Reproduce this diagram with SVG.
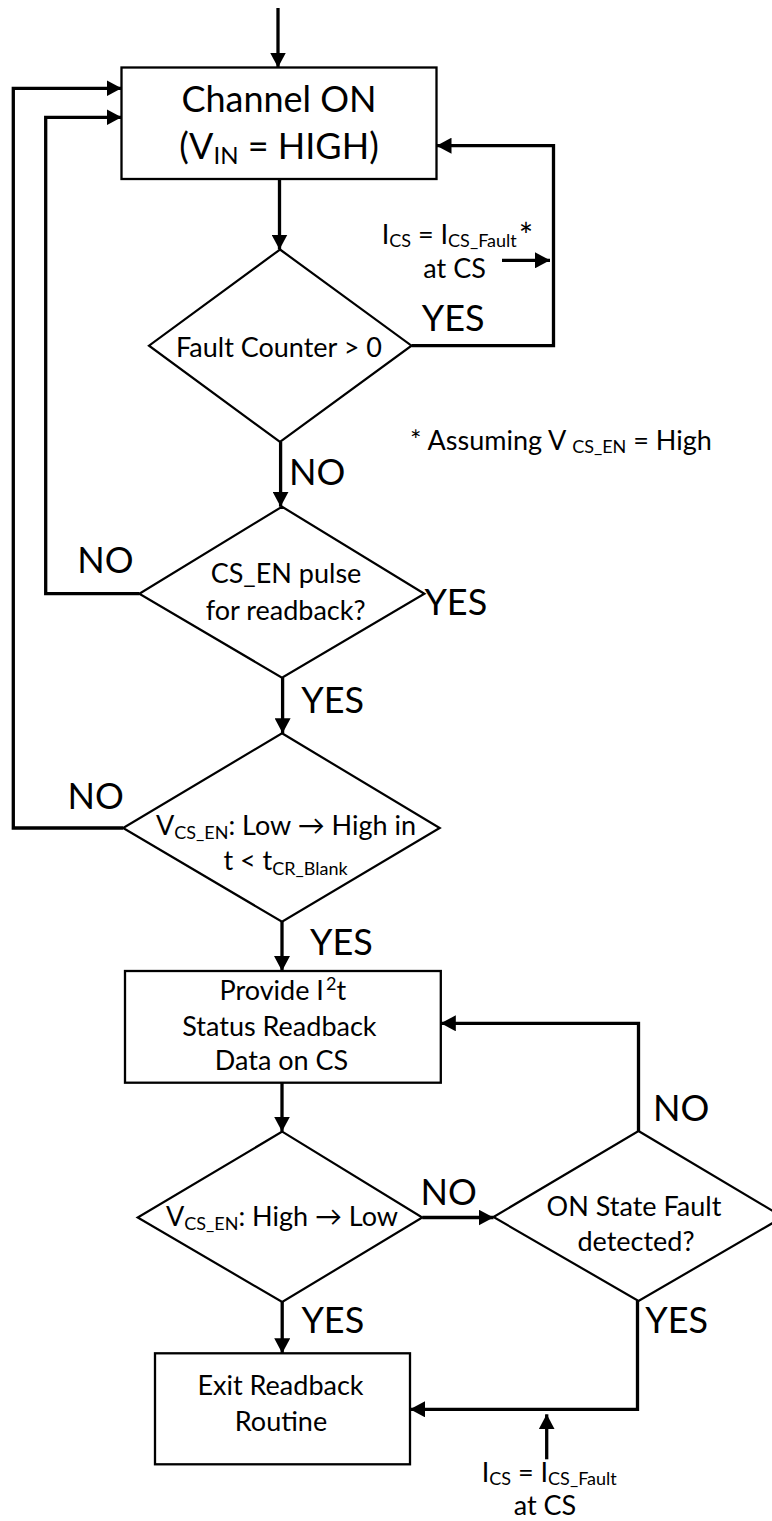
<svg xmlns="http://www.w3.org/2000/svg" width="772" height="1521" viewBox="0 0 772 1521">
  <style>
    .box { fill: #ffffff; stroke: #000000; stroke-width: 2.3; }
    .dia { fill: #ffffff; stroke: #000000; stroke-width: 2.2; stroke-linejoin: miter; }
    .conn { fill: none; stroke: #000000; stroke-width: 3.3; stroke-linejoin: miter; marker-end: url(#ah); }
    text { font-family: Lato, "Liberation Sans", "DejaVu Sans", sans-serif; fill: #000000; }
    .big { font-size: 36px; }
    .mid { font-size: 27px; }
    .c { text-anchor: middle; }
    .sub { font-size: 18px; }
    .subb { font-size: 24px; }
    .star { font-size: 34px; }
  </style>
  <defs>
    <marker id="ah" markerUnits="userSpaceOnUse" markerWidth="16" markerHeight="16" refX="15" refY="8" orient="auto">
      <path d="M0,0 L15,8 L0,16 z" fill="#000000"/>
    </marker>
  </defs>

  <g id="connectors">
    <path class="conn" d="M278,8 V67.5"/>
    <path class="conn" d="M279.5,179 V249.5"/>
    <path class="conn" d="M411.5,345.7 H553.5 V145.7 H436.5"/>
    <path class="conn" d="M280.6,442 V506.7"/>
    <path class="conn" d="M139.3,593.7 H45.7 V117.3 H121.5"/>
    <path class="conn" d="M282.6,677.7 V733.3"/>
    <path class="conn" d="M123.1,828 H13.3 V88.3 H121.5"/>
    <path class="conn" d="M282,921.7 V971"/>
    <path class="conn" d="M282,1082.7 V1131.6"/>
    <path class="conn" d="M422.3,1217.5 H493.5"/>
    <path class="conn" d="M638.5,1131 V1023.3 H440.8"/>
    <path class="conn" d="M282.2,1302 V1353.3"/>
    <path class="conn" d="M637.5,1301 V1409.3 H410"/>
    <path class="conn" d="M502,260.3 H550"/>
    <path class="conn" d="M546.7,1459.3 V1414.3"/>
  </g>

  <g id="channel-on">
    <rect class="box" x="121.5" y="67.5" width="315" height="111.5"/>
    <text class="big c" x="279" y="111.7">Channel ON</text>
    <text class="big c" x="279" y="159">(V<tspan class="subb" dy="5">IN</tspan><tspan dy="-5"> = HIGH)</tspan></text>
  </g>

  <g id="fault-counter">
    <polygon class="dia" points="280,249.5 411.5,345.7 280,442 149,345.7"/>
    <text class="mid c" x="279" y="357">Fault Counter &gt; 0</text>
  </g>

  <g id="cs-en-pulse">
    <polygon class="dia" points="282,506.7 424.4,593.7 282,677.7 139.3,593.7"/>
    <text class="mid c" x="286" y="583.3">CS_EN pulse</text>
    <text class="mid c" x="285.6" y="620">for readback?</text>
  </g>

  <g id="vcsen-low-high">
    <polygon class="dia" points="282,733.3 439.7,828 282,921.7 123.1,828"/>
    <text class="mid c" x="286" y="835">V<tspan class="sub" dy="4">CS_EN</tspan><tspan dy="-4">: Low → High in</tspan></text>
    <text class="mid c" x="285.5" y="870">t &lt; t<tspan class="sub" dy="5">CR_Blank</tspan></text>
  </g>

  <g id="provide-readback">
    <rect class="box" x="125" y="971" width="315.8" height="111.7"/>
    <text class="mid c" x="282.8" y="1000">Provide I<tspan class="sub" dx="2" dy="-10">2</tspan><tspan dy="10">t</tspan></text>
    <text class="mid c" x="279.4" y="1036">Status Readback</text>
    <text class="mid c" x="281.5" y="1070">Data on CS</text>
  </g>

  <g id="vcsen-high-low">
    <polygon class="dia" points="282.2,1131.6 422.3,1217.5 282.2,1302 137.7,1217.5"/>
    <text class="mid c" x="282" y="1226">V<tspan class="sub" dy="4">CS_EN</tspan><tspan dy="-4">: High → Low</tspan></text>
  </g>

  <g id="on-state-fault">
    <polygon class="dia" points="638.5,1131 783,1217 638.5,1301 493.5,1217"/>
    <text class="mid c" x="634" y="1216">ON State Fault</text>
    <text class="mid c" x="636" y="1251">detected?</text>
  </g>

  <g id="exit-readback">
    <rect class="box" x="155" y="1353.3" width="255" height="111"/>
    <text class="mid c" x="280.5" y="1394.6">Exit Readback</text>
    <text class="mid c" x="281" y="1431">Routine</text>
  </g>

  <g id="labels">
    <text class="big" x="421.7" y="331">YES</text>
    <text class="big" x="289" y="485">NO</text>
    <text class="big" x="77.3" y="572.7">NO</text>
    <text class="big" x="424.4" y="615">YES</text>
    <text class="big" x="301.3" y="713.3">YES</text>
    <text class="big" x="67.5" y="809.3">NO</text>
    <text class="big" x="310" y="955">YES</text>
    <text class="big" x="652.9" y="1121">NO</text>
    <text class="big" x="420.6" y="1205">NO</text>
    <text class="big" x="301.4" y="1333.3">YES</text>
    <text class="big" x="645.2" y="1333.3">YES</text>
    <text class="mid" x="381.7" y="244.3">I<tspan class="sub" dy="3">CS</tspan><tspan dy="-3"> = I</tspan><tspan class="sub" dy="3">CS_Fault</tspan><tspan class="star" dx="2" dy="1">*</tspan></text>
    <text class="mid c" x="454.6" y="278.3">at CS</text>
    <text class="mid" x="410" y="450">* Assuming V <tspan class="sub" dy="3">CS_EN</tspan><tspan dy="-3"> = High</tspan></text>
    <text class="mid" x="481.7" y="1482">I<tspan class="sub" dy="3">CS</tspan><tspan dy="-3"> = I</tspan><tspan class="sub" dy="3">CS_Fault</tspan></text>
    <text class="mid c" x="545" y="1515">at CS</text>
  </g>
</svg>
